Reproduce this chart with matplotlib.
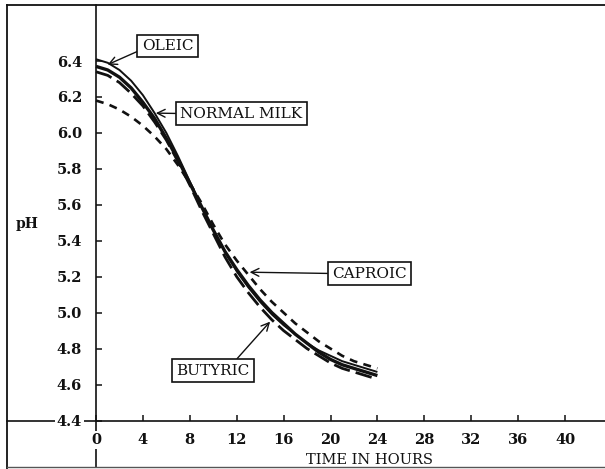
import matplotlib
matplotlib.use("Agg")
import matplotlib.pyplot as plt
from matplotlib.lines import Line2D

# ---- data ----
hours = list(range(0, 25))
oleic = [6.41, 6.39, 6.35, 6.29, 6.21, 6.11, 6.00, 5.87, 5.73, 5.59, 5.46, 5.34,
         5.23, 5.14, 5.06, 4.99, 4.93, 4.88, 4.83, 4.79, 4.76, 4.73, 4.71, 4.69, 4.67]
normal_milk = [6.37, 6.35, 6.31, 6.25, 6.17, 6.08, 5.97, 5.85, 5.72, 5.59, 5.46, 5.34,
               5.24, 5.15, 5.07, 5.00, 4.94, 4.88, 4.83, 4.78, 4.74, 4.71, 4.69, 4.67, 4.65]
butyric = [6.34, 6.32, 6.28, 6.22, 6.15, 6.06, 5.96, 5.84, 5.71, 5.57, 5.44, 5.31,
           5.20, 5.11, 5.03, 4.96, 4.90, 4.85, 4.80, 4.76, 4.72, 4.69, 4.67, 4.65, 4.63]
caproic = [6.18, 6.16, 6.13, 6.09, 6.04, 5.98, 5.91, 5.82, 5.72, 5.61, 5.49, 5.38,
           5.29, 5.21, 5.13, 5.06, 5.00, 4.94, 4.89, 4.84, 4.80, 4.76, 4.73, 4.71, 4.69]

x_ticks = [0, 4, 8, 12, 16, 20, 24, 28, 32, 36, 40]
y_ticks = [4.4, 4.6, 4.8, 5.0, 5.2, 5.4, 5.6, 5.8, 6.0, 6.2, 6.4]
y_tick_labels = ["4.4", "4.6", "4.8", "5.0", "5.2", "5.4", "5.6", "5.8", "6.0", "6.2", "6.4"]

W, H = 605, 469
fig = plt.figure(figsize=(W / 100, H / 100), dpi=100)
ax = fig.add_axes([0, 0, 1, 1])

# pixel mapping helpers
PX_PER_H = 11.725
X0_PX = 96
PX_PER_PH = 179.75
Y0_PX = 420.5
def px_x(p):
    return (p - X0_PX) / PX_PER_H
def px_y(p):
    return 4.4 + (Y0_PX - p) / PX_PER_PH

ax.set_xlim(px_x(0), px_x(W))
ax.set_ylim(px_y(H), px_y(0))

ink = "#111111"
ax.plot(hours, oleic, color=ink, lw=1.4, solid_capstyle="butt")
ax.plot(hours, normal_milk, color=ink, lw=2.4, solid_capstyle="butt")
ax.plot(hours, butyric, color=ink, lw=2.0, dashes=(6, 2.2))
ax.plot(hours, caproic, color=ink, lw=1.9, dashes=(3.0, 2.4))

# axes lines
for s in ["top", "right"]:
    ax.spines[s].set_visible(False)
ax.spines["left"].set_position(("data", 0))
ax.spines["bottom"].set_position(("data", 4.4))
ax.spines["left"].set_bounds(px_y(467), px_y(5))
ax.spines["bottom"].set_bounds(px_x(7), px_x(W))
for s in ["left", "bottom"]:
    ax.spines[s].set_linewidth(1.2)
    ax.spines[s].set_color(ink)

tick_font = dict(family="DejaVu Serif", weight="bold", size=10.5)
ax.set_xticks(x_ticks)
ax.set_xticklabels([str(t) for t in x_ticks], **tick_font)
ax.set_yticks(y_ticks)
ax.set_yticklabels(y_tick_labels, **tick_font)
ax.tick_params(axis="both", direction="in", length=4, width=1.1, color=ink, labelcolor=ink)
ax.tick_params(axis="x", pad=9)
ax.tick_params(axis="y", pad=10)
ax.xaxis.set_zorder(3)
ax.yaxis.set_zorder(3)
for lab in ax.get_xticklabels() + ax.get_yticklabels():
    lab.set_bbox(dict(facecolor="white", edgecolor="none", pad=1.5))

# axis labels
ax.text(px_x(27), px_y(224), "pH", ha="center", va="center",
        family="DejaVu Serif", weight="bold", size=10, color=ink)
ax.text(px_x(369), px_y(460), "TIME IN HOURS", ha="center", va="center",
        family="DejaVu Serif", size=10.5, color=ink)

# annotations
box = dict(boxstyle="square,pad=0.28", facecolor="white", edgecolor=ink, lw=1.2)
def note(text, xy, xytext, relpos):
    ax.annotate(text, xy=xy, xytext=xytext, ha="center", va="center",
                family="DejaVu Serif", size=11, color=ink, bbox=box,
                arrowprops=dict(arrowstyle="->", color=ink, lw=1.0,
                                relpos=relpos, shrinkA=0, shrinkB=0,
                                mutation_scale=14))

note("OLEIC", (1.0, 6.38), (px_x(167.5), px_y(46)), (0.0, 0.25))
note("NORMAL MILK", (5.1, 6.11), (px_x(241.5), px_y(113.5)), (0.0, 0.5))
note("CAPROIC", (13.1, 5.225), (px_x(369.5), px_y(273.5)), (0.0, 0.5))
note("BUTYRIC", (14.85, 4.95), (px_x(213), px_y(370.5)), (0.77, 1.0))

# outer frame
fig.add_artist(Line2D([7 / W, 1], [1 - 5 / H, 1 - 5 / H], transform=fig.transFigure, color=ink, lw=1.3))
fig.add_artist(Line2D([7 / W, 7 / W], [1 - 5 / H, 0], transform=fig.transFigure, color=ink, lw=1.3))
fig.add_artist(Line2D([7 / W, 1], [1 - 467 / H, 1 - 467 / H], transform=fig.transFigure, color="#555555", lw=1.0))

fig.savefig("out.png", dpi=100)
